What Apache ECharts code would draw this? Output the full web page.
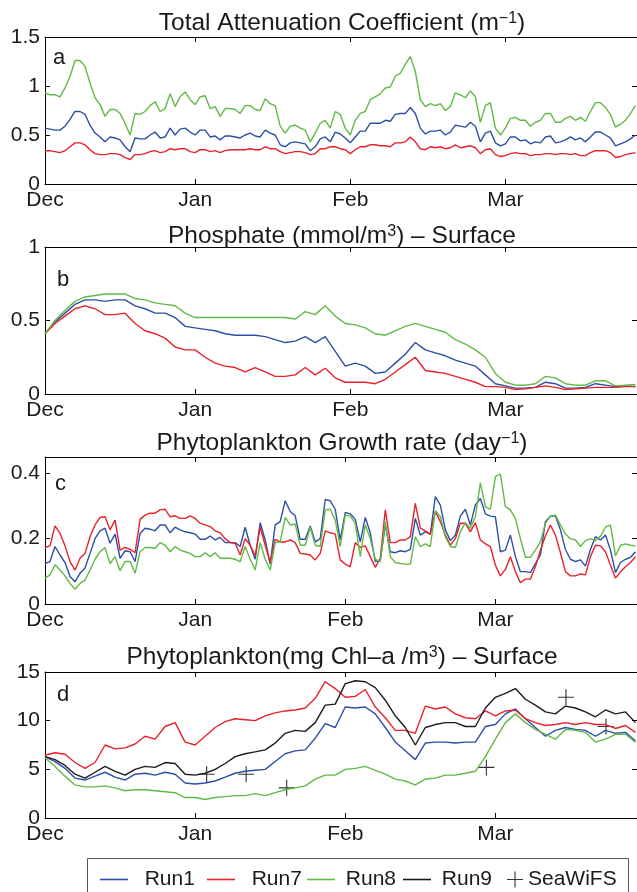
<!DOCTYPE html>
<html>
<head>
<meta charset="utf-8">
<title>Model runs Dec–Mar</title>
<script src="https://cdn.jsdelivr.net/npm/echarts@6/dist/echarts.min.js"></script>
<style>
  html, body { margin: 0; padding: 0; background: #fff; }
  #chart { width: 637px; height: 892px; }
</style>
</head>
<body>
<div id="chart"></div>
<script>
// x = day index, 0 = 1 Dec
const monthNames = ['Dec', 'Jan', 'Feb', 'Mar'];
const monthTicksAB = [0, 30, 61, 92];
const monthTicksCD = [0, 30, 60, 90];
const DAY_MAX = 118.3;

// a) total attenuation coefficient, one value per day
const attenRun1 = [
  0.57,0.56,0.55,0.55,0.59,0.66,0.74,0.74,0.71,0.60,
  0.52,0.48,0.43,0.48,0.47,0.45,0.38,0.33,0.47,0.46,
  0.46,0.50,0.53,0.47,0.48,0.57,0.50,0.56,0.57,0.53,
  0.50,0.55,0.55,0.48,0.49,0.45,0.49,0.49,0.48,0.47,
  0.50,0.52,0.49,0.48,0.55,0.52,0.50,0.40,0.38,0.42,
  0.43,0.42,0.41,0.34,0.38,0.46,0.48,0.43,0.53,0.51,
  0.47,0.42,0.48,0.54,0.54,0.62,0.62,0.62,0.65,0.64,
  0.71,0.72,0.72,0.78,0.72,0.57,0.51,0.54,0.54,0.55,
  0.50,0.53,0.60,0.59,0.58,0.63,0.59,0.43,0.52,0.54,
  0.42,0.39,0.41,0.48,0.48,0.44,0.45,0.41,0.43,0.42,
  0.48,0.49,0.42,0.43,0.45,0.48,0.45,0.47,0.43,0.48,
  0.53,0.53,0.50,0.47,0.39,0.41,0.43,0.46,0.50
];
const attenRun7 = [
  0.34,0.34,0.33,0.32,0.34,0.38,0.42,0.42,0.40,0.35,
  0.31,0.30,0.30,0.31,0.31,0.30,0.27,0.25,0.30,0.30,
  0.31,0.33,0.34,0.32,0.33,0.36,0.35,0.36,0.36,0.33,
  0.32,0.35,0.35,0.33,0.34,0.32,0.34,0.35,0.35,0.35,
  0.35,0.36,0.35,0.35,0.38,0.36,0.36,0.33,0.31,0.32,
  0.33,0.33,0.32,0.30,0.31,0.36,0.36,0.38,0.38,0.36,
  0.35,0.31,0.35,0.38,0.38,0.40,0.40,0.39,0.39,0.38,
  0.42,0.42,0.43,0.48,0.43,0.36,0.35,0.38,0.37,0.38,
  0.36,0.37,0.40,0.37,0.38,0.39,0.37,0.31,0.35,0.36,
  0.30,0.28,0.29,0.31,0.32,0.31,0.31,0.29,0.30,0.30,
  0.31,0.31,0.30,0.31,0.31,0.30,0.31,0.29,0.29,0.32,
  0.34,0.34,0.34,0.32,0.27,0.28,0.30,0.31,0.32
];
const attenRun8 = [
  0.93,0.91,0.91,0.89,0.98,1.10,1.26,1.26,1.20,1.03,
  0.88,0.81,0.69,0.76,0.76,0.72,0.62,0.50,0.72,0.71,
  0.74,0.80,0.84,0.74,0.77,0.92,0.79,0.89,0.94,0.86,
  0.81,0.89,0.90,0.77,0.79,0.69,0.77,0.77,0.76,0.72,
  0.80,0.80,0.76,0.75,0.87,0.82,0.80,0.59,0.52,0.59,
  0.60,0.57,0.55,0.43,0.52,0.62,0.65,0.57,0.74,0.71,
  0.57,0.50,0.65,0.72,0.74,0.86,0.89,0.92,0.98,0.99,
  1.10,1.13,1.22,1.30,1.15,0.86,0.79,0.82,0.80,0.82,
  0.75,0.79,0.93,0.91,0.88,0.95,0.89,0.63,0.80,0.83,
  0.57,0.50,0.57,0.67,0.68,0.65,0.65,0.59,0.63,0.65,
  0.72,0.72,0.63,0.63,0.67,0.69,0.65,0.68,0.64,0.74,
  0.83,0.83,0.78,0.71,0.58,0.61,0.65,0.72,0.80
];

// b) surface phosphate, one value every 2 days
const phosRun1 = [
  0.41,0.49,0.55,0.61,0.64,0.64,0.63,0.64,0.64,0.60,
  0.58,0.55,0.55,0.52,0.46,0.45,0.44,0.43,0.41,0.40,
  0.40,0.40,0.39,0.37,0.35,0.36,0.39,0.35,0.39,0.29,
  0.19,0.21,0.19,0.14,0.15,0.21,0.27,0.35,0.30,0.28,
  0.26,0.23,0.21,0.19,0.13,0.07,0.055,0.04,0.04,0.045,
  0.08,0.07,0.04,0.04,0.045,0.07,0.06,0.05,0.055,0.05
];
const phosRun7 = [
  0.41,0.48,0.53,0.58,0.60,0.58,0.54,0.54,0.55,0.48,
  0.43,0.41,0.38,0.32,0.30,0.30,0.25,0.21,0.19,0.18,
  0.15,0.18,0.15,0.12,0.12,0.13,0.18,0.13,0.175,0.11,
  0.08,0.08,0.08,0.07,0.10,0.15,0.20,0.25,0.16,0.15,
  0.14,0.12,0.10,0.08,0.05,0.05,0.045,0.03,0.035,0.045,
  0.055,0.045,0.03,0.035,0.04,0.045,0.045,0.045,0.05,0.05
];
const phosRun8 = [
  0.41,0.50,0.57,0.63,0.66,0.67,0.68,0.68,0.68,0.65,
  0.64,0.62,0.61,0.60,0.55,0.52,0.52,0.52,0.52,0.52,
  0.52,0.52,0.52,0.52,0.52,0.51,0.56,0.54,0.60,0.53,
  0.48,0.47,0.45,0.41,0.40,0.43,0.46,0.48,0.46,0.44,
  0.42,0.37,0.34,0.30,0.25,0.14,0.08,0.06,0.06,0.07,
  0.12,0.11,0.07,0.06,0.06,0.09,0.09,0.055,0.06,0.065
];

// c) phytoplankton growth rate, one value per day
const growthRun1 = [
  0.124,0.13,0.176,0.15,0.127,0.084,0.068,0.094,0.11,0.155,
  0.20,0.224,0.232,0.186,0.214,0.14,0.163,0.16,0.13,0.216,
  0.232,0.229,0.224,0.242,0.242,0.218,0.235,0.227,0.221,0.218,
  0.214,0.198,0.198,0.208,0.196,0.204,0.188,0.188,0.188,0.176,
  0.235,0.18,0.137,0.249,0.196,0.122,0.242,0.252,0.316,0.283,
  0.27,0.198,0.198,0.239,0.19,0.20,0.32,0.316,0.29,0.196,
  0.28,0.276,0.259,0.19,0.265,0.218,0.13,0.133,0.242,0.16,
  0.157,0.163,0.16,0.167,0.262,0.211,0.221,0.214,0.329,0.303,
  0.227,0.194,0.211,0.269,0.29,0.242,0.303,0.323,0.276,0.269,
  0.267,0.16,0.165,0.211,0.145,0.099,0.099,0.096,0.124,0.15,
  0.252,0.269,0.269,0.227,0.167,0.137,0.13,0.135,0.116,0.167,
  0.206,0.196,0.211,0.165,0.096,0.127,0.137,0.143,0.16
];
const growthRun7 = [
  0.173,0.178,0.239,0.216,0.178,0.13,0.104,0.14,0.155,0.206,
  0.242,0.265,0.267,0.227,0.257,0.165,0.173,0.167,0.157,0.259,
  0.272,0.278,0.278,0.288,0.29,0.267,0.27,0.262,0.262,0.27,
  0.262,0.247,0.242,0.237,0.224,0.218,0.20,0.188,0.186,0.15,
  0.20,0.18,0.147,0.235,0.18,0.127,0.198,0.19,0.19,0.196,
  0.188,0.155,0.153,0.15,0.135,0.155,0.224,0.218,0.214,0.135,
  0.122,0.114,0.188,0.173,0.178,0.145,0.112,0.14,0.288,0.188,
  0.188,0.196,0.196,0.206,0.308,0.232,0.224,0.214,0.283,0.252,
  0.211,0.18,0.20,0.247,0.247,0.221,0.249,0.196,0.184,0.176,
  0.119,0.086,0.106,0.145,0.099,0.065,0.076,0.076,0.114,0.165,
  0.208,0.242,0.211,0.157,0.099,0.086,0.086,0.092,0.089,0.145,
  0.18,0.178,0.16,0.119,0.079,0.099,0.114,0.127,0.145
];
const growthRun8 = [
  0.079,0.089,0.12,0.104,0.086,0.063,0.045,0.063,0.073,0.104,
  0.137,0.16,0.173,0.124,0.145,0.102,0.13,0.13,0.094,0.16,
  0.173,0.173,0.17,0.188,0.18,0.16,0.176,0.165,0.16,0.155,
  0.145,0.145,0.157,0.145,0.157,0.14,0.14,0.14,0.137,0.13,
  0.176,0.137,0.104,0.188,0.137,0.104,0.188,0.19,0.265,0.242,
  0.245,0.18,0.18,0.235,0.18,0.176,0.288,0.29,0.257,0.176,
  0.272,0.269,0.247,0.145,0.242,0.20,0.137,0.13,0.252,0.145,
  0.127,0.124,0.122,0.122,0.206,0.176,0.184,0.176,0.286,0.267,
  0.206,0.176,0.173,0.221,0.249,0.232,0.267,0.371,0.298,0.29,
  0.39,0.398,0.298,0.288,0.262,0.20,0.143,0.143,0.165,0.19,
  0.247,0.269,0.272,0.242,0.214,0.20,0.196,0.176,0.194,0.20,
  0.194,0.208,0.235,0.242,0.147,0.18,0.184,0.18,0.178
];

// d) surface chlorophyll, one value every 2 days
const chlRun1 = [
  6.3,5.8,5.1,4.1,3.9,4.3,4.7,4.2,3.9,4.5,
  4.6,4.4,4.7,4.5,3.6,3.5,3.6,3.8,4.2,4.6,
  4.8,4.9,5.0,5.8,6.6,6.9,7.0,8.2,9.7,9.3,
  11.4,11.3,11.4,10.7,9.3,7.8,6.9,6.0,7.7,7.8,
  7.8,7.7,7.8,7.8,9.4,9.6,10.7,11.2,10.2,9.3,
  8.4,9.0,9.3,9.1,9.0,8.4,9.0,8.7,8.8,7.9
];
const chlRun7 = [
  6.45,6.7,6.55,5.7,5.1,5.7,7.5,7.1,7.2,7.6,
  8.4,8.1,9.4,9.8,7.8,7.5,8.4,9.3,9.9,10.2,
  10.1,10.0,10.5,10.8,11.0,11.1,11.3,12.3,14.0,13.3,
  12.4,12.5,13.2,11.4,10.3,9.0,9.0,8.7,11.5,11.2,
  11.4,10.7,10.3,10.2,11.0,10.5,11.0,11.1,10.2,9.8,
  9.5,9.6,9.8,9.6,9.8,9.6,9.6,9.2,9.5,8.8
];
const chlRun8 = [
  6.2,5.3,4.3,3.4,3.2,3.2,3.3,3.1,2.8,2.9,
  2.9,2.8,2.7,2.6,2.1,2.1,1.9,2.1,2.2,2.3,
  2.3,2.5,2.3,2.6,2.9,3.1,3.3,4.0,4.4,4.4,
  5.0,5.1,5.3,4.9,4.5,4.0,3.8,3.4,4.0,4.1,
  4.4,4.4,4.6,4.8,6.3,8.1,9.8,10.7,9.8,9.1,
  8.6,8.1,9.1,9.0,8.8,7.8,8.1,8.6,8.6,7.8
];
const chlRun9 = [
  6.3,6.0,5.4,4.5,4.1,4.7,5.3,4.8,4.4,5.0,
  5.3,5.2,5.7,5.6,4.5,4.4,4.6,5.0,5.6,6.3,
  6.6,6.8,7.0,7.7,8.7,9.0,8.9,9.8,11.6,11.7,
  13.8,14.1,14.0,13.4,12.1,10.5,9.3,7.5,9.3,9.6,
  9.8,9.8,9.4,9.4,11.3,12.4,12.8,13.3,12.2,11.6,
  10.9,10.7,11.5,11.3,10.9,10.4,11.1,10.7,10.9,9.8
];
const seawifsDays = [32.3, 40.2, 48.3, 88.2, 104.1, 112.1];
const seawifsChl = [4.5, 4.5, 3.1, 5.2, 12.4, 9.4];

const COLORS = { Run1: '#2d4fa3', Run7: '#e8222b', Run8: '#62b946', Run9: '#1c1c1c' };
const FONT = "'Liberation Sans', Arial, Helvetica, sans-serif";
const INK = '#1a1a1a';
const CROSS = 'path://M9.3,0 L10.7,0 L10.7,9.3 L20,9.3 L20,10.7 L10.7,10.7 L10.7,20 L9.3,20 L9.3,10.7 L0,10.7 L0,9.3 L9.3,9.3 Z';

const panels = [
  {
    top: 37, height: 147, yMax: 1.5, yTicks: [0, 0.5, 1, 1.5], xTicks: monthTicksAB,
    title: '{t|Total Attenuation Coefficient (m}{s|−1}{t|)}', titleTop: 11,
    letter: 'a', letterLeft: 53, letterTop: 47, step: 1,
    lines: [['Run1', attenRun1], ['Run7', attenRun7], ['Run8', attenRun8]]
  },
  {
    top: 247, height: 147, yMax: 1, yTicks: [0, 0.5, 1], xTicks: monthTicksAB,
    title: '{t|Phosphate (mmol/m}{s|3}{t|) – Surface}', titleTop: 224,
    letter: 'b', letterLeft: 57, letterTop: 269, step: 2,
    lines: [['Run1', phosRun1], ['Run7', phosRun7], ['Run8', phosRun8]]
  },
  {
    top: 457, height: 147, yMax: 0.45, yTicks: [0, 0.2, 0.4], xTicks: monthTicksCD,
    title: '{t|Phytoplankton Growth rate (day}{s|−1}{t|)}', titleTop: 431,
    letter: 'c', letterLeft: 55, letterTop: 473, step: 1,
    lines: [['Run1', growthRun1], ['Run7', growthRun7], ['Run8', growthRun8]]
  },
  {
    top: 672, height: 146, yMax: 15, yTicks: [0, 5, 10, 15], xTicks: monthTicksCD,
    title: '{t|Phytoplankton(mg Chl–a /m}{s|3}{t|) – Surface}', titleTop: 645,
    letter: 'd', letterLeft: 57, letterTop: 684, step: 2,
    lines: [['Run1', chlRun1], ['Run7', chlRun7], ['Run8', chlRun8], ['Run9', chlRun9]]
  }
];

// legend entries: [name, icon left x, label prefix]
const legendSlots = [
  ['Run1', 100, '  '],
  ['Run7', 207, '  '],
  ['Run8', 307, ' '],
  ['Run9', 403, ' '],
  ['SeaWiFS', 507, '']
];

const frameLine = { onZero: false, lineStyle: { color: '#000', width: 1 } };
function tick(values) {
  return { show: true, inside: true, length: 5, customValues: values, lineStyle: { color: '#000', width: 1 } };
}

const grid = [], xAxis = [], yAxis = [], series = [], title = [];

panels.forEach((p, i) => {
  grid.push({ left: 45, right: -2, top: p.top, height: p.height });

  xAxis.push({
    gridIndex: i, type: 'value', min: 0, max: DAY_MAX, position: 'bottom',
    axisLine: frameLine, axisTick: tick(p.xTicks), splitLine: { show: false },
    axisLabel: {
      customValues: p.xTicks, margin: 6, fontSize: 21, color: INK, fontFamily: FONT,
      formatter: v => monthNames[p.xTicks.indexOf(v)]
    }
  });
  xAxis.push({
    gridIndex: i, type: 'value', min: 0, max: DAY_MAX, position: 'top',
    axisLine: frameLine, axisTick: tick(p.xTicks), splitLine: { show: false },
    axisLabel: { show: false }
  });
  yAxis.push({
    gridIndex: i, type: 'value', min: 0, max: p.yMax, position: 'left',
    axisLine: frameLine, axisTick: tick(p.yTicks), splitLine: { show: false },
    axisLabel: { customValues: p.yTicks, margin: 5, fontSize: 21, color: INK, fontFamily: FONT }
  });
  yAxis.push({
    gridIndex: i, type: 'value', min: 0, max: p.yMax, position: 'right',
    axisLine: frameLine, axisTick: tick(p.yTicks), splitLine: { show: false },
    axisLabel: { show: false }
  });

  p.lines.forEach(([name, vals]) => {
    series.push({
      name, type: 'line', xAxisIndex: 2 * i, yAxisIndex: 2 * i,
      data: vals.map((v, k) => [k * p.step, v]),
      symbol: 'none', lineStyle: { color: COLORS[name], width: 1.4 },
      itemStyle: { color: COLORS[name] }, silent: true
    });
  });

  title.push({
    text: p.title, left: 342, top: p.titleTop, textAlign: 'center', padding: 0,
    textStyle: {
      fontWeight: 'normal',
      rich: {
        t: { fontSize: 24.5, fontWeight: 'normal', color: INK, fontFamily: FONT },
        s: { fontSize: 16, fontWeight: 'normal', color: INK, fontFamily: FONT, verticalAlign: 'top' }
      }
    }
  });
  title.push({
    text: p.letter, left: p.letterLeft, top: p.letterTop, padding: 0,
    textStyle: { fontSize: 22, fontWeight: 'normal', color: INK, fontFamily: FONT }
  });
});

series.push({
  name: 'SeaWiFS', type: 'scatter', xAxisIndex: 6, yAxisIndex: 6,
  data: seawifsDays.map((d, k) => [d, seawifsChl[k]]),
  symbol: CROSS, symbolSize: 16, itemStyle: { color: '#000' }, silent: true
});

const legend = legendSlots.map(([name, x, prefix]) => {
  const isCross = name === 'SeaWiFS';
  return {
    left: x, top: 869, padding: 0, itemGap: 0,
    itemWidth: isCross ? 16 : 28, itemHeight: isCross ? 16 : 1.6,
    icon: isCross ? CROSS : 'rect',
    textStyle: { fontSize: 21, color: INK, fontFamily: FONT },
    formatter: n => prefix + n,
    data: [{ name }]
  };
});

const chart = echarts.init(document.getElementById('chart'), null, { renderer: 'canvas' });
chart.setOption({
  animation: false,
  backgroundColor: '#fff',
  textStyle: { fontFamily: FONT },
  title,
  grid,
  xAxis,
  yAxis,
  series,
  legend,
  graphic: [{
    type: 'rect', silent: true, z: -1,
    shape: { x: 87.5, y: 858.5, width: 541, height: 50 },
    style: { fill: '#fff', stroke: '#555', lineWidth: 1 }
  }]
});
</script>
</body>
</html>
